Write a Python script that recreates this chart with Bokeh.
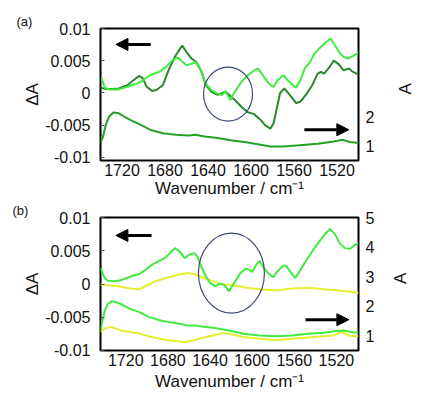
import math
from bokeh.plotting import figure
from bokeh.models import (Range1d, LinearAxis, FixedTicker, CustomJSTickFormatter,
                          Arrow, NormalHead)
from bokeh.layouts import column
from bokeh.embed import file_html
from bokeh.resources import INLINE

FONT = "Liberation Sans"

# ---------------- data ----------------
x_ticks = [1720, 1680, 1640, 1600, 1560, 1520]
left_ticks = [-0.01, -0.005, 0, 0.005, 0.01]
right_ticks_a = [1, 2]
right_ticks_b = [1, 2, 3, 4, 5]

# panel (a): difference spectra (left axis, dA)
wn_a_dark = [1740, 1735, 1729, 1723, 1715, 1709, 1704, 1701, 1697, 1692, 1688, 1682, 1676, 1670, 1664,
             1660, 1655, 1651, 1646, 1642, 1637, 1631, 1627, 1624, 1619, 1615, 1609, 1603, 1597, 1591,
             1587, 1582, 1579, 1576, 1573, 1569, 1564, 1558, 1554, 1549, 1543, 1538, 1535, 1532, 1527,
             1523, 1518, 1514, 1509, 1506, 1500]
da_a_dark = [0.0008, 0.0006, 0.0006, 0.0007, 0.0012, 0.0020, 0.00265, 0.00235, 0.00095, 0.0003,
             0.00045, 0.0012, 0.0038, 0.00585, 0.00735, 0.00635, 0.0053, 0.0048, 0.0033, 0.0012,
             0.0002, -0.0003, -0.00005, 0.0002, -0.0005, -0.0011, -0.00215, -0.0030, -0.0033, -0.0042,
             -0.0050, -0.00555, -0.0047, -0.0024, -0.00005, 0.0007, -0.0003, -0.0016, -0.00135, -0.0003,
             0.0012, 0.0030, 0.00325, 0.0030, 0.0040, 0.00505, 0.0044, 0.0035, 0.0038, 0.00335, 0.00285]

wn_a_bright = [1739, 1736, 1732, 1723, 1715, 1709, 1706, 1700, 1694, 1685, 1679, 1673, 1668, 1664, 1660,
               1655, 1652, 1648, 1642, 1637, 1631, 1627, 1624, 1619, 1615, 1609, 1603, 1599, 1594, 1591,
               1587, 1582, 1579, 1575, 1570, 1566, 1561, 1558, 1554, 1550, 1545, 1541, 1535, 1530, 1526,
               1523, 1518, 1514, 1510, 1505, 1500]
da_a_bright = [0.0023, 0.0008, 0.00055, 0.00055, 0.00095, 0.0013, 0.00145, 0.0020, 0.00275, 0.0033,
               0.00405, 0.0051, 0.0055, 0.0049, 0.0043, 0.00455, 0.0048, 0.00405, 0.00145, 0.00045,
               -0.0001, -0.00035, 0.0003, -0.0011, 0.0002, 0.0017, 0.00275, 0.00325, 0.0038, 0.00325,
               0.00225, 0.0012, 0.00095, 0.0020, 0.00275, 0.0020, 0.0012, 0.0008, 0.0020, 0.0038,
               0.0048, 0.0061, 0.00715, 0.0079, 0.00845, 0.00765, 0.00635, 0.0056, 0.00535, 0.00575, 0.00625]

# panel (a): absorbance spectrum (right axis, A)
wn_a_abs = [1740, 1738, 1735, 1732, 1728, 1723, 1718, 1712, 1703, 1694, 1682, 1670, 1658, 1652,
            1643, 1631, 1619, 1606, 1591, 1582, 1570, 1555, 1538, 1523, 1515, 1508, 1500]
abs_a = [1.15, 1.27, 1.72, 2.0, 2.14, 2.11, 2.0, 1.88, 1.72, 1.55, 1.43, 1.38, 1.35, 1.38,
         1.32, 1.27, 1.19, 1.13, 1.04, 0.98, 0.98, 1.02, 1.07, 1.15, 1.21, 1.13, 1.1]

# panel (b): difference spectra (left axis)
wn_b_green = [1744, 1740, 1737, 1731, 1725, 1719, 1713, 1707, 1701, 1695, 1689, 1682, 1676, 1673, 1669,
              1664, 1660, 1655, 1652, 1649, 1644, 1640, 1635, 1630, 1626, 1622, 1617, 1611, 1606, 1603,
              1600, 1596, 1593, 1590, 1585, 1580, 1576, 1571, 1568, 1564, 1559, 1555, 1550, 1545, 1541,
              1535, 1530, 1526, 1521, 1517, 1512, 1507, 1503, 1499]
da_b_green = [0.0024, 0.0009, 0.0005, 0.0004, 0.00057, 0.0009, 0.00127, 0.0015, 0.00216, 0.0029,
              0.0034, 0.004, 0.005, 0.0054, 0.0049, 0.0039, 0.0044, 0.00465, 0.00415, 0.0029,
              0.00117, 0.00017, -0.00035, 0.0001, -0.0002, -0.0011, 0.0002, 0.00167, 0.0023, 0.00216,
              0.0018, 0.0029, 0.0035, 0.00266, 0.00167, 0.001, 0.0019, 0.00266, 0.0028, 0.0019,
              0.0009, 0.0019, 0.0032, 0.0044, 0.0054, 0.00665, 0.00765, 0.0083, 0.0074, 0.00615,
              0.0054, 0.0053, 0.0058, 0.00615]

wn_b_yellow = [1744, 1737, 1728, 1716, 1707, 1701, 1692, 1682, 1670, 1661, 1655, 1646, 1637, 1628,
               1623, 1614, 1605, 1593, 1577, 1562, 1547, 1532, 1517, 1499]
da_b_yellow = [-0.0001, -0.0002, -0.0003, -0.00067, -0.0008, -0.0003, 0.0004, 0.0009, 0.0014, 0.00167,
               0.0015, 0.0009, 0.0004, -0.0001, -0.0001, -0.0003, -0.00057, -0.0008, -0.00097, -0.00067,
               -0.00057, -0.0008, -0.00097, -0.0013]

# panel (b): absorbance spectra (right axis)
wn_b_green_abs = [1744, 1740, 1737, 1733, 1725, 1716, 1707, 1698, 1685, 1673, 1661, 1655, 1646, 1637,
                  1622, 1608, 1593, 1577, 1562, 1547, 1532, 1520, 1513, 1507, 1499]
abs_b_green = [1.18, 1.85, 2.08, 2.17, 2.08, 1.91, 1.80, 1.63, 1.5, 1.43, 1.35, 1.35, 1.3, 1.27,
               1.18, 1.07, 1.01, 0.98, 1.01, 1.07, 1.1, 1.16, 1.18, 1.13, 1.1]

wn_b_yellow_abs = [1744, 1740, 1734, 1725, 1716, 1707, 1698, 1685, 1673, 1664, 1655, 1646, 1637, 1628,
                   1622, 1608, 1593, 1577, 1562, 1547, 1532, 1523, 1515, 1509, 1499]
abs_b_yellow = [1.13, 1.24, 1.3, 1.18, 1.13, 1.07, 0.98, 0.87, 0.82, 0.79, 0.85, 0.94, 1.01, 1.09,
                1.07, 0.96, 0.9, 0.85, 0.9, 0.94, 0.98, 1.01, 1.13, 1.01, 0.98]

x_title = "Wavenumber / cm\u207b\u00b9"
left_title = "ΔA"
right_title = "A"
panel_tags = ["(a)", "(b)"]

# ---------------- styling ----------------
C_BRIGHT = "#3fec3f"
C_DARK = "#2a872a"
C_MID = "#25a225"
C_YELLOW = "#e6ee30"
C_CIRCLE = "#3d4a78"
TICK_FS = "16px"
TITLE_FS = "17px"
TXT = "#111111"
W = 427


def make_fig(tag, tag_offset, height, borders, xr, yr, rr, rticks,
             x_title_standoff, right_title_standoff):
    left, right, top, bottom = borders
    p = figure(width=W, height=height, output_backend="svg", toolbar_location=None,
               x_range=Range1d(*xr), y_range=Range1d(*yr),
               min_border_left=left, min_border_right=right,
               min_border_top=top, min_border_bottom=bottom)
    p.extra_y_ranges = {"right": Range1d(*rr)}
    p.background_fill_color = "white"
    p.border_fill_color = "white"
    p.outline_line_color = "black"
    p.outline_line_width = 2
    p.xgrid.visible = False
    p.ygrid.visible = False

    # panel tag "(a)" / "(b)" as the plot title, pulled to the left edge
    p.title.text = tag
    p.title.align = "left"
    p.title.offset = tag_offset
    p.title.standoff = 0
    p.title.vertical_align = "bottom"
    p.title.text_font = FONT
    p.title.text_font_size = "13px"
    p.title.text_font_style = "normal"
    p.title.text_color = TXT

    xa = p.xaxis[0]
    xa.ticker = FixedTicker(ticks=x_ticks)
    xa.axis_line_color = None
    xa.major_tick_in = 0
    xa.major_tick_out = 0
    xa.minor_tick_line_color = None
    xa.major_label_standoff = 3
    xa.major_label_text_font = FONT
    xa.major_label_text_font_size = TICK_FS
    xa.major_label_text_color = TXT
    xa.axis_label = x_title
    xa.axis_label_standoff = x_title_standoff
    xa.axis_label_text_font = FONT
    xa.axis_label_text_font_size = TITLE_FS
    xa.axis_label_text_font_style = "normal"
    xa.axis_label_text_color = TXT

    ya = p.yaxis[0]
    ya.ticker = FixedTicker(ticks=left_ticks)
    ya.formatter = CustomJSTickFormatter(code="return tick.toString();")
    ya.axis_line_color = None
    ya.major_tick_in = 4
    ya.major_tick_out = 0
    ya.major_tick_line_color = "#555555"
    ya.minor_tick_line_color = None
    ya.major_label_standoff = 10
    ya.major_label_text_font = FONT
    ya.major_label_text_font_size = TICK_FS
    ya.major_label_text_color = TXT
    ya.axis_label = left_title
    ya.axis_label_standoff = 0
    ya.axis_label_text_font = FONT
    ya.axis_label_text_font_size = TITLE_FS
    ya.axis_label_text_font_style = "normal"
    ya.axis_label_text_color = TXT

    ra = LinearAxis(y_range_name="right", ticker=FixedTicker(ticks=rticks))
    ra.axis_line_color = None
    ra.major_tick_in = 0
    ra.major_tick_out = 0
    ra.minor_tick_line_color = None
    ra.major_label_standoff = 7
    ra.major_label_text_font = FONT
    ra.major_label_text_font_size = TICK_FS
    ra.major_label_text_color = TXT
    ra.axis_label = right_title
    ra.axis_label_standoff = right_title_standoff
    ra.axis_label_text_font = FONT
    ra.axis_label_text_font_size = TITLE_FS
    ra.axis_label_text_font_style = "normal"
    ra.axis_label_text_color = TXT
    try:
        ra.axis_label_orientation = math.pi / 2
    except Exception:
        pass
    p.add_layout(ra, "right")
    return p


def mapper(frame, xr, yr):
    """pixel position within a panel's canvas -> data coordinates of that panel"""
    fx0, fx1, fy0, fy1 = frame

    def f(px, py):
        x = xr[0] + (px - fx0) / (fx1 - fx0) * (xr[1] - xr[0])
        y = yr[1] + (py - fy0) / (fy1 - fy0) * (yr[0] - yr[1])
        return x, y
    return f


def add_arrow(p, m, start, end):
    xs, ys = m(*start)
    xe, ye = m(*end)
    p.add_layout(Arrow(x_start=xs, y_start=ys, x_end=xe, y_end=ye, line_width=3,
                       line_color="black",
                       end=NormalHead(size=12, fill_color="black", line_color="black",
                                      line_width=1)))


rr = (0.5, 5.001)

# ---------------- panel (a) ----------------
xr_a = (1740, 1500)
yr_a = (-0.0105, 0.01001)
pa = make_fig(panel_tags[0], -84, 200, (96, 64, 28, 39), xr_a, yr_a, rr, right_ticks_a, 0, 28)
ma = mapper((96, 363, 28, 161), xr_a, (-0.0105, 0.01))

pa.line(wn_a_abs, abs_a, line_color=C_MID, line_width=2, y_range_name="right")
pa.line(wn_a_dark, da_a_dark, line_color=C_DARK, line_width=2)
pa.line(wn_a_bright, da_a_bright, line_color=C_BRIGHT, line_width=2)

cx, cy = ma(228, 94)
pa.ellipse(x=[cx], y=[cy], width=[49], height=[54], width_units="screen",
           height_units="screen", fill_color=None, line_color=C_CIRCLE, line_width=1.2)
add_arrow(pa, ma, (148, 44), (112, 44))
add_arrow(pa, ma, (307, 130), (353, 130))

# ---------------- panel (b) ----------------
xr_b = (1744, 1499)
yr_b = (-0.01001, 0.01001)
pb = make_fig(panel_tags[1], -88, 194, (100, 59, 16, 44), xr_b, yr_b, rr, right_ticks_b, 3, 23)
mb = mapper((100, 368, 16, 150), xr_b, (-0.01, 0.01))

pb.line(wn_b_yellow_abs, abs_b_yellow, line_color=C_YELLOW, line_width=2, y_range_name="right")
pb.line(wn_b_green_abs, abs_b_green, line_color=C_BRIGHT, line_width=2, y_range_name="right")
pb.line(wn_b_yellow, da_b_yellow, line_color=C_YELLOW, line_width=2)
pb.line(wn_b_green, da_b_green, line_color=C_BRIGHT, line_width=2)

cx, cy = mb(236, 72)
pb.ellipse(x=[cx], y=[cy], width=[66], height=[80], width_units="screen",
           height_units="screen", fill_color=None, line_color=C_CIRCLE, line_width=1.2)
add_arrow(pb, mb, (153, 34), (116, 34))
add_arrow(pb, mb, (313, 119), (358, 119))

layout = column(pa, pb)
open("out.html", "w").write(file_html(layout, INLINE))
